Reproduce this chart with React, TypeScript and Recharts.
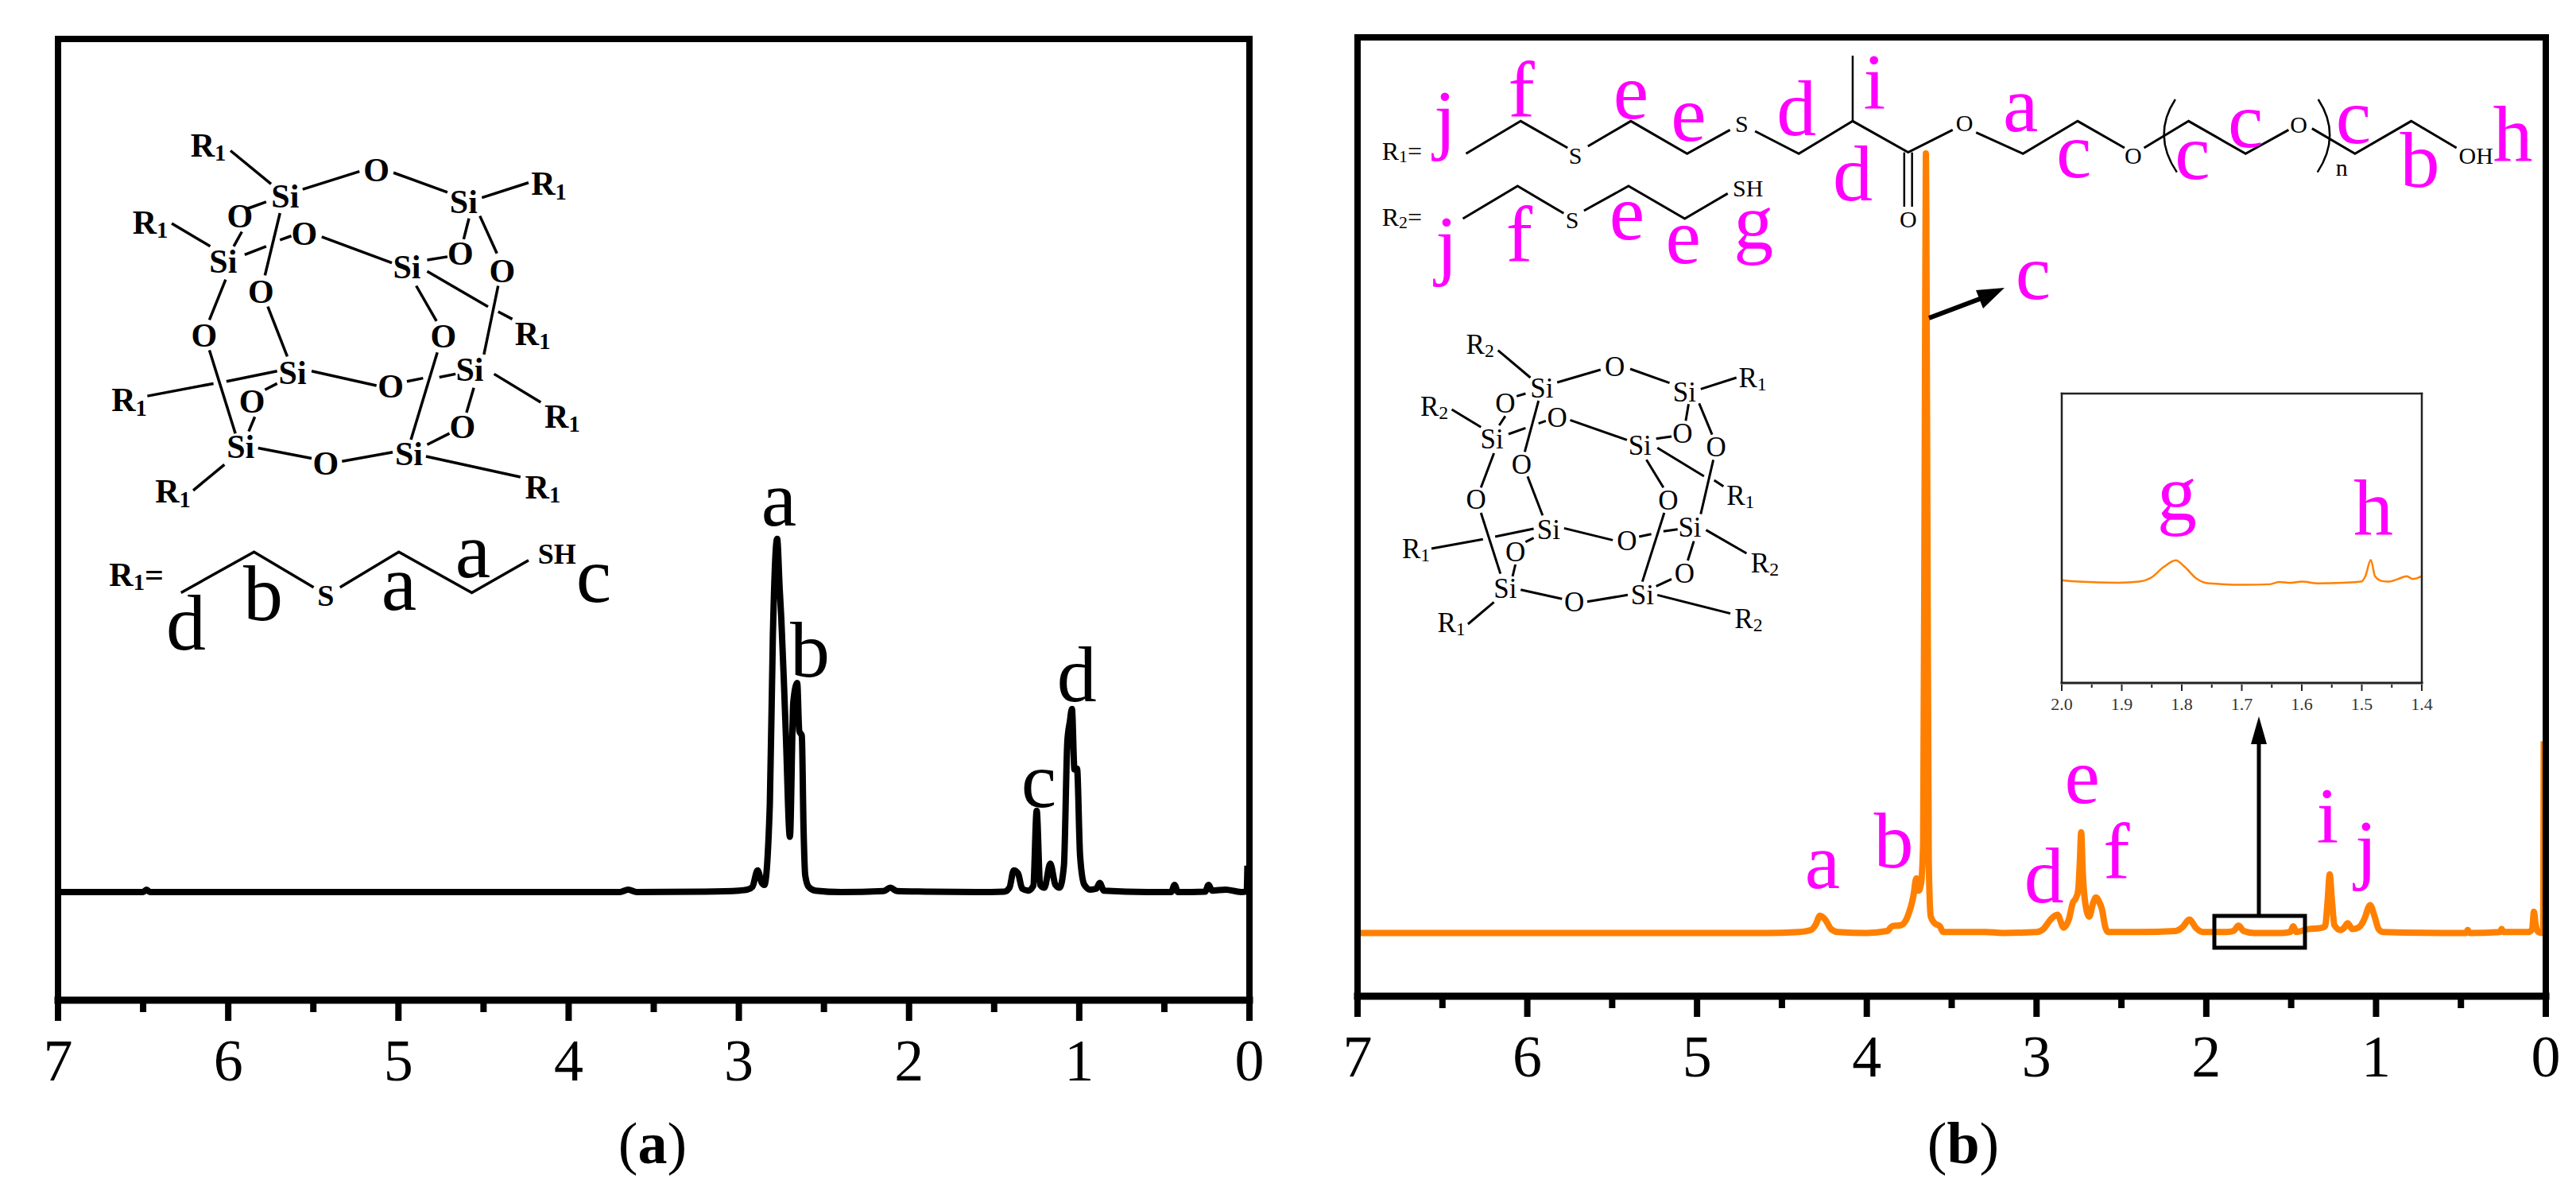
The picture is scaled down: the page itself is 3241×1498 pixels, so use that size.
import { LineChart, Line, XAxis, YAxis } from 'recharts';

// spectrum (a): chemical shift (ppm) and intensity in % of frame height
const ppmA = [7, 6.6, 6.5, 6.48, 6.46, 5.5, 4.5, 4, 3.7, 3.65, 3.6, 3.2, 3, 2.95, 2.92, 2.89, 2.865, 2.85, 2.818, 2.8, 2.775, 2.76, 2.75, 2.735, 2.724, 2.7, 2.68, 2.657, 2.645, 2.63, 2.62, 2.61, 2.59, 2.55, 2.4, 2.15, 2.11, 2.07, 1.9, 1.6, 1.44, 1.41, 1.385, 1.36, 1.335, 1.3, 1.27, 1.25, 1.23, 1.205, 1.17, 1.14, 1.115, 1.09, 1.07, 1.055, 1.043, 1.028, 1.013, 0.995, 0.97, 0.935, 0.9, 0.88, 0.855, 0.6, 0.46, 0.44, 0.42, 0.26, 0.24, 0.22, 0.14, 0.05, 0.016, 0.012];
const intensityA = [11.25, 11.25, 11.25, 11.5, 11.25, 11.25, 11.25, 11.25, 11.25, 11.5, 11.25, 11.3, 11.4, 11.5, 11.8, 13.5, 12.2, 12, 20.3, 38, 48, 42.8, 39.5, 33, 27.7, 17, 31, 33, 28, 27.5, 18, 13, 11.8, 11.4, 11.25, 11.35, 11.7, 11.35, 11.3, 11.25, 11.3, 11.7, 13.5, 13.2, 11.6, 11.4, 11.9, 19.7, 12, 11.7, 14.2, 12, 11.7, 14, 26.9, 29, 30.3, 24, 24.1, 15, 12, 11.5, 11.6, 12.2, 11.4, 11.25, 11.25, 12, 11.25, 11.3, 12, 11.4, 11.5, 11.25, 11.3, 14];

// spectrum (b)
const ppmB = [7, 6.5, 5.8, 5, 4.6, 4.4, 4.33, 4.3, 4.276, 4.245, 4.21, 4.17, 4, 3.88, 3.85, 3.8, 3.76, 3.725, 3.708, 3.695, 3.68, 3.668, 3.658, 3.652, 3.645, 3.635, 3.623, 3.6, 3.57, 3.55, 3.3, 3.2, 3, 2.96, 2.917, 2.877, 2.84, 2.81, 2.785, 2.769, 2.755, 2.745, 2.737, 2.728, 2.715, 2.69, 2.665, 2.65, 2.63, 2.615, 2.595, 2.58, 2.4, 2.18, 2.14, 2.1, 2.06, 2.02, 1.88, 1.84, 1.81, 1.78, 1.72, 1.55, 1.505, 1.488, 1.47, 1.4, 1.33, 1.3, 1.285, 1.273, 1.26, 1.245, 1.21, 1.19, 1.167, 1.14, 1.1, 1.07, 1.035, 1.01, 0.985, 0.96, 0.6, 0.47, 0.46, 0.45, 0.27, 0.26, 0.25, 0.1, 0.08, 0.07, 0.06, 0.045, 0.02, 0.015, 0.012];
const intensityB = [6.6, 6.6, 6.6, 6.6, 6.6, 6.7, 6.9, 7.5, 8.4, 8, 7, 6.7, 6.6, 6.8, 7.3, 7.4, 8.3, 10.5, 12.3, 11, 11.8, 16, 60, 87.9, 60, 14, 8.3, 7.6, 7.3, 6.7, 6.7, 6.6, 6.7, 7, 8, 8.5, 7.15, 8, 9.8, 10.2, 11, 14, 17.1, 13, 10, 8.3, 9.8, 10.3, 9.8, 9.1, 7.2, 6.7, 6.7, 6.8, 7.2, 8, 7.1, 6.7, 6.7, 6.8, 7.35, 6.8, 6.6, 6.6, 6.7, 7.3, 6.7, 7, 7.1, 7.3, 10, 12.7, 10, 7.4, 6.9, 7.1, 7.6, 7, 7.2, 8, 9.5, 8.4, 7, 6.7, 6.6, 6.6, 6.9, 6.6, 6.7, 7, 6.7, 6.7, 7, 8.8, 7.5, 6.7, 6.6, 6.9, 26.6];

// inset of (b), 2.0 to 1.4 ppm
const ppmInset = [2, 1.972, 1.906, 1.871, 1.851, 1.83, 1.81, 1.795, 1.775, 1.754, 1.694, 1.653, 1.638, 1.618, 1.6, 1.572, 1.532, 1.501, 1.494, 1.485, 1.478, 1.466, 1.456, 1.44, 1.425, 1.415, 1.4];
const intensityInset = [35.5, 35, 34.6, 35, 36.4, 40.1, 42.4, 40.1, 36, 34.4, 33.9, 34.1, 34.9, 34.6, 35, 34.4, 34.6, 35, 36.9, 42.5, 36.9, 35.2, 35, 35.9, 36.9, 35.9, 36.9];

const mainTicks = [0, 0.5, 1, 1.5, 2, 2.5, 3, 3.5, 4, 4.5, 5, 5.5, 6, 6.5, 7];
const insetTicks = [1.4, 1.45, 1.5, 1.55, 1.6, 1.65, 1.7, 1.75, 1.8, 1.85, 1.9, 1.95, 2];

const toRows = (xs: number[], ys: number[]) => xs.map((ppm, i) => ({ ppm, y: ys[i] })).reverse();

const SERIF = '"Liberation Serif", serif';
const MAGENTA = '#ff00ff';
const ORANGE = '#ff8000';

function MainTick({ x, y, payload }: any) {
  const major = Number.isInteger(payload.value);
  return (
    <g>
      <line x1={x} x2={x} y1={y} y2={y + (major ? 24 : 13)} stroke="#000" strokeWidth={8} />
      {major && (
        <text x={x} y={y + 99} textAnchor="middle" fontFamily={SERIF} fontSize={74} fill="#000">
          {payload.value}
        </text>
      )}
    </g>
  );
}

function InsetTick({ x, y, payload }: any) {
  const major = Math.round(payload.value * 100) % 10 === 0;
  return (
    <g>
      <line x1={x} x2={x} y1={y} y2={y + (major ? 8 : 4)} stroke="#222" strokeWidth={2} />
      {major && (
        <text x={x} y={y + 32} textAnchor="middle" fontFamily={SERIF} fontSize={22} fill="#333">
          {payload.value.toFixed(1)}
        </text>
      )}
    </g>
  );
}

// margins are one pixel short on three sides because the frame axes need a size of 1 to be drawn
function Spectrum({ rows, left, top, width, height, margin, xHeight, domain, ticks, tick, color, lineWidth, frame, bottomFrame }: any) {
  const edge = { stroke: frame.color, strokeWidth: frame.width, strokeLinecap: 'square' as const };
  return (
    <div style={{ position: 'absolute', left, top, width, height }}>
      <LineChart width={width} height={height} data={rows} margin={margin}>
        <XAxis
          dataKey="ppm"
          type="number"
          domain={domain}
          reversed
          ticks={ticks}
          interval={0}
          tick={tick}
          tickLine={false}
          tickSize={0}
          height={xHeight}
          axisLine={{ ...edge, strokeWidth: bottomFrame }}
        />
        <XAxis xAxisId="top" orientation="top" dataKey="ppm" type="number" domain={domain} reversed height={1} tick={false} tickLine={false} axisLine={edge} />
        <YAxis width={1} domain={[0, 100]} tick={false} tickLine={false} axisLine={edge} />
        <YAxis yAxisId="right" orientation="right" width={1} domain={[0, 100]} tick={false} tickLine={false} axisLine={edge} />
        <Line dataKey="y" type="monotone" stroke={color} strokeWidth={lineWidth} dot={false} isAnimationActive={false} strokeLinejoin="round" />
      </LineChart>
    </div>
  );
}

type Pt = [number, number];
type Map2 = (p: Pt) => Pt;

// drawing geometry of the molecule sketches, in the units of the crops they were read from
const cageA = {
  si: [[625, 415], [1065, 428], [472, 572], [925, 585], [643, 840], [1080, 832], [515, 1018], [930, 1035]] as Pt[],
  o: [[850, 352], [513, 462], [672, 505], [1057, 552], [1160, 595], [565, 645], [425, 750], [1015, 752], [885, 872], [543, 908], [1062, 970], [725, 1057]] as Pt[],
  r: [[435, 292, 1], [1275, 385, 1], [292, 478, 1], [1235, 745, 1], [240, 905, 1], [1308, 945, 1], [348, 1125, 1], [1260, 1115, 1]],
  bonds: [[490, 305, 590, 385], [668, 398, 808, 355], [892, 358, 1025, 405], [1110, 418, 1225, 382], [345, 480, 440, 535], [525, 555, 578, 535], [612, 520, 640, 510], [715, 512, 888, 575], [975, 568, 1025, 560], [1078, 468, 1065, 518], [1105, 462, 1147, 552], [612, 455, 575, 605], [530, 445, 578, 428], [518, 500, 498, 535], [478, 615, 438, 712], [582, 680, 630, 800], [948, 630, 998, 715], [975, 595, 1125, 680], [1150, 692, 1185, 710], [1150, 630, 1115, 795], [438, 785, 502, 985], [480, 860, 605, 835], [285, 895, 448, 865], [690, 835, 850, 870], [925, 860, 965, 852], [1005, 850, 1045, 842], [1000, 790, 935, 1000], [1140, 842, 1255, 910], [1090, 875, 1072, 935], [1030, 985, 975, 1012], [605, 865, 575, 880], [550, 945, 535, 980], [558, 1020, 690, 1045], [765, 1052, 890, 1030], [972, 1040, 1205, 1090], [475, 1060, 398, 1122]],
};

const cageB = {
  si: [[470, 265], [822, 280], [347, 458], [712, 480], [487, 800], [835, 790], [380, 1020], [718, 1045]] as Pt[],
  o: [[650, 183], [380, 323], [508, 375], [817, 437], [900, 488], [420, 553], [308, 685], [782, 688], [680, 840], [405, 882], [822, 965], [550, 1072]] as Pt[],
  r: [[318, 100, 2], [990, 225, 1], [205, 335, 2], [960, 670, 1], [160, 872, 1], [1020, 925, 2], [247, 1150, 1], [980, 1135, 2]],
  bonds: [[362, 122, 442, 225], [508, 243, 615, 195], [688, 192, 785, 245], [862, 268, 950, 225], [248, 345, 320, 412], [388, 438, 430, 415], [462, 398, 480, 388], [540, 385, 680, 460], [752, 455, 790, 447], [832, 325, 825, 388], [858, 322, 890, 440], [462, 312, 428, 505], [408, 295, 430, 285], [380, 370, 365, 405], [352, 510, 320, 640], [435, 598, 472, 745], [728, 535, 770, 640], [755, 490, 870, 597], [895, 612, 918, 635], [893, 535, 862, 740], [320, 735, 368, 965], [355, 825, 450, 795], [198, 870, 325, 835], [525, 793, 645, 838], [710, 825, 740, 815], [770, 805, 805, 797], [772, 735, 718, 995], [875, 800, 975, 888], [845, 842, 830, 915], [790, 985, 752, 1012], [450, 830, 430, 845], [405, 930, 398, 975], [418, 1025, 520, 1060], [582, 1070, 682, 1045], [755, 1045, 935, 1115], [352, 1072, 288, 1155]],
};

const mapCageA: Map2 = ([x, y]) => [40 + x / 1.96, 30 + y / 1.912];
const mapCageB: Map2 = ([x, y]) => [1700 + x / 1.96, 400 + y / 3];
const mapChainB: Map2 = ([x, y]) => [1700 + x / 1.0175, 30 + y / 3];
const mapLowerB: Map2 = ([x, y]) => [2200 + x / 1.506, 900 + y / 3];
const mapLowerA: Map2 = ([x, y]) => [850 + x / 2.09, 850 + y / 3];

function Atom({ at, size, bold, children }: any) {
  return (
    <text x={at[0]} y={at[1]} textAnchor="middle" dominantBaseline="central" fontFamily={SERIF} fontSize={size} fontWeight={bold ? 700 : 400} fill="#000">
      {children}
    </text>
  );
}

function RLabel({ at, n, size, bold, suffix }: any) {
  return (
    <Atom at={at} size={size} bold={bold}>
      R
      <tspan fontSize={size * 0.68} dy={size * 0.22}>{n}</tspan>
      {suffix && <tspan dy={-size * 0.22}>{suffix}</tspan>}
    </Atom>
  );
}

function Cage({ cage, map, size, bold, lineWidth }: any) {
  return (
    <g>
      {cage.bonds.map((b: number[], i: number) => {
        const [x1, y1] = map([b[0], b[1]]);
        const [x2, y2] = map([b[2], b[3]]);
        return <line key={i} x1={x1} y1={y1} x2={x2} y2={y2} stroke="#000" strokeWidth={lineWidth} />;
      })}
      {cage.si.map((p: Pt, i: number) => <Atom key={i} at={map(p)} size={size} bold={bold}>Si</Atom>)}
      {cage.o.map((p: Pt, i: number) => <Atom key={i} at={map(p)} size={size} bold={bold}>O</Atom>)}
      {cage.r.map((r: number[], i: number) => <RLabel key={i} at={map([r[0], r[1]])} n={r[2]} size={size} bold={bold} />)}
    </g>
  );
}

function Chain({ pts, map, w = 3 }: any) {
  const d = pts.map((p: Pt) => map(p).join(',')).join(' ');
  return <polyline points={d} fill="none" stroke="#000" strokeWidth={w} strokeLinejoin="miter" />;
}

function Letter({ at, color = MAGENTA, children }: any) {
  return (
    <text x={at[0]} y={at[1]} textAnchor="middle" fontFamily={SERIF} fontSize={100} fill={color}>
      {children}
    </text>
  );
}

const lettersA: [string, Pt][] = [['d', [234, 817]], ['b', [331, 780]], ['a', [502, 767]], ['a', [595, 726]], ['c', [747, 757]], ['a', [980, 661]], ['b', [1019, 851]]];
const lettersATwo: [string, Pt][] = [['c', [955, 495]], ['d', [1055, 95]]];
const lettersChainB: [string, Pt][] = [['j', [120, 455]], ['f', [218, 350]], ['e', [358, 358]], ['e', [432, 440]], ['d', [570, 420]], ['i', [670, 318]], ['d', [642, 665]], ['a', [857, 405]], ['c', [925, 578]], ['c', [1077, 585]], ['c', [1145, 465]], ['c', [1283, 450]], ['b', [1368, 615]], ['h', [1487, 515]], ['j', [122, 930]], ['f', [215, 897]], ['e', [353, 812]], ['e', [425, 902]], ['g', [515, 850]], ['c', [873, 1038]]];
const lettersLowerB: [string, Pt][] = [['a', [140, 650]], ['b', [275, 572]], ['d', [560, 705]], ['e', [632, 330]], ['f', [697, 615]], ['i', [1097, 478]], ['j', [1170, 600]]];

function Overlay() {
  return (
    <svg width={3241} height={1498} style={{ position: 'absolute', left: 0, top: 0, pointerEvents: 'none' }}>
      {/* panel (a) molecule */}
      <Cage cage={cageA} map={mapCageA} size={42} bold lineWidth={3.5} />
      <RLabel at={mapCageA([258, 1325])} n={1} size={42} bold suffix="=" />
      <Chain map={mapCageA} pts={[[368, 1368], [548, 1270], [695, 1355]]} w={3.5} />
      <Chain map={mapCageA} pts={[[760, 1355], [905, 1270], [1085, 1368], [1225, 1290]]} w={3.5} />
      <Atom at={mapCageA([725, 1375])} size={38} bold>S</Atom>
      <Atom at={mapCageA([1295, 1275])} size={36} bold>SH</Atom>
      {lettersA.map(([t, p], i) => <Letter key={i} at={p} color="#000">{t}</Letter>)}
      {lettersATwo.map(([t, p], i) => <Letter key={i} at={mapLowerA(p)} color="#000">{t}</Letter>)}

      {/* panel (b) molecule */}
      <Cage cage={cageB} map={mapCageB} size={35} lineWidth={3} />
      <RLabel at={mapChainB([65, 480])} n={1} size={32} suffix="=" />
      <RLabel at={mapChainB([65, 730])} n={2} size={32} suffix="=" />
      <Chain map={mapChainB} pts={[[147, 490], [217, 367], [277, 468]]} />
      <Chain map={mapChainB} pts={[[303, 462], [358, 367], [430, 490], [485, 400]]} />
      <Chain map={mapChainB} pts={[[517, 405], [573, 490], [642, 367], [713, 485], [770, 400]]} />
      <Chain map={mapChainB} pts={[[800, 410], [860, 490], [930, 367], [990, 468]]} />
      <Chain map={mapChainB} pts={[[1015, 468], [1072, 367], [1145, 490], [1200, 400]]} />
      <Chain map={mapChainB} pts={[[1230, 395], [1285, 490], [1357, 367], [1415, 468]]} />
      <Chain map={mapChainB} pts={[[642, 367], [642, 120]]} w={2.5} />
      <Chain map={mapChainB} pts={[[708, 485], [708, 690]]} w={2.5} />
      <Chain map={mapChainB} pts={[[718, 485], [718, 690]]} w={2.5} />
      <Chain map={mapChainB} pts={[[143, 735], [213, 612], [272, 715]]} />
      <Chain map={mapChainB} pts={[[298, 705], [355, 612], [427, 735], [482, 640]]} />
      {([[287, 495, 'S'], [500, 375, 'S'], [785, 372, 'O'], [1001, 497, 'O'], [1213, 380, 'O'], [713, 735, 'O'], [283, 740, 'S'], [1440, 495, 'OH'], [508, 620, 'SH'], [1268, 540, 'n']] as [number, number, string][]).map(([x, y, t], i) => (
        <Atom key={i} at={mapChainB([x, y])} size={30}>{t}</Atom>
      ))}
      <path d={`M${mapChainB([1055, 285]).join(' ')} Q${mapChainB([1025, 420]).join(' ')} ${mapChainB([1057, 560]).join(' ')}`} fill="none" stroke="#000" strokeWidth={2.5} />
      <path d={`M${mapChainB([1238, 285]).join(' ')} Q${mapChainB([1268, 420]).join(' ')} ${mapChainB([1237, 560]).join(' ')}`} fill="none" stroke="#000" strokeWidth={2.5} />
      {lettersChainB.map(([t, p], i) => <Letter key={i} at={mapChainB(p)}>{t}</Letter>)}
      {lettersLowerB.map(([t, p], i) => <Letter key={i} at={mapLowerB(p)}>{t}</Letter>)}

      {/* arrow to the main peak */}
      <line x1={2427} y1={400} x2={2496} y2={374} stroke="#000" strokeWidth={6} />
      <polygon points="2522,362 2486,365 2495,388" fill="#000" />

      {/* zoomed region box and arrow up to the inset */}
      <rect x={2786} y={1152} width={114} height={40} fill="none" stroke="#000" strokeWidth={5} />
      <line x1={2842} x2={2842} y1={1152} y2={930} stroke="#000" strokeWidth={5} />
      <polygon points="2842,901 2832,936 2852,936" fill="#000" />

      {/* inset labels */}
      <Letter at={[2739, 654]}>g</Letter>
      <Letter at={[2986, 672]}>h</Letter>

      {/* panel captions */}
      <text x={821} y={1463} textAnchor="middle" fontFamily={SERIF} fontSize={74} fill="#000">
        (<tspan fontWeight={700}>a</tspan>)
      </text>
      <text x={2470} y={1463} textAnchor="middle" fontFamily={SERIF} fontSize={74} fill="#000">
        (<tspan fontWeight={700}>b</tspan>)
      </text>
    </svg>
  );
}

export default function App() {
  return (
    <div style={{ position: 'absolute', left: 0, top: 0, width: 3241, height: 1498, background: '#fff', overflow: 'hidden' }}>
      <Spectrum
        rows={toRows(ppmA, intensityA)}
        left={0}
        top={0}
        width={1640}
        height={1498}
        margin={{ left: 72, right: 67, top: 48, bottom: 0 }}
        xHeight={240}
        domain={[0, 7]}
        ticks={mainTicks}
        tick={MainTick}
        color="#000"
        lineWidth={8}
        frame={{ color: '#000', width: 8 }}
        bottomFrame={9}
      />
      <Spectrum
        rows={toRows(ppmB, intensityB)}
        left={1640}
        top={0}
        width={1601}
        height={1498}
        margin={{ left: 67, right: 37, top: 46, bottom: 0 }}
        xHeight={245}
        domain={[0, 7]}
        ticks={mainTicks}
        tick={MainTick}
        color={ORANGE}
        lineWidth={8}
        frame={{ color: '#000', width: 8 }}
        bottomFrame={9}
      />
      <Spectrum
        rows={toRows(ppmInset, intensityInset)}
        left={2500}
        top={470}
        width={600}
        height={450}
        margin={{ left: 93, right: 52, top: 24, bottom: 0 }}
        xHeight={61}
        domain={[1.4, 2]}
        ticks={insetTicks}
        tick={InsetTick}
        color={ORANGE}
        lineWidth={2.5}
        frame={{ color: '#222', width: 2.5 }}
        bottomFrame={3}
      />
      <Overlay />
    </div>
  );
}
